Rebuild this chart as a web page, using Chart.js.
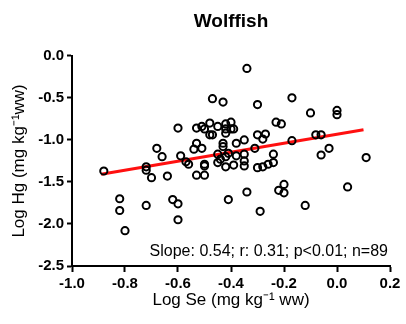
<!DOCTYPE html>
<html>
<head>
<meta charset="utf-8">
<script src="https://cdn.jsdelivr.net/npm/chart.js@4.4.0/dist/chart.umd.min.js"></script>
<style>
  html, body { margin: 0; padding: 0; background: #fff; }
  #wrap { width: 406px; height: 324px; }
</style>
</head>
<body>
<div id="wrap"><canvas id="one" width="406" height="324"></canvas></div>
<script>
"use strict";

// Wolffish: log Se vs log Hg
var logSe = [
  -0.88, -0.82, -0.82, -0.80, -0.72, -0.72, -0.70, -0.72, -0.68, -0.66,
  -0.64, -0.62, -0.60, -0.60, -0.60, -0.59, -0.57, -0.56, -0.54, -0.53,
  -0.53, -0.53, -0.51, -0.50, -0.51, -0.50, -0.48, -0.48, -0.47, -0.47,
  -0.45, -0.43, -0.42, -0.42, -0.40, -0.39, -0.42, -0.43, -0.43, -0.45,
  -0.42, -0.41, -0.38, -0.35, -0.38, -0.35, -0.34, -0.50, -0.50, -0.45,
  -0.42, -0.39, -0.35, -0.41, -0.34, -0.31, -0.30, -0.30, -0.28, -0.26,
  -0.24, -0.30, -0.27, -0.28, -0.23, -0.21, -0.24, -0.29, -0.22, -0.20,
  -0.20, -0.17, -0.17, -0.10, -0.08, -0.06, -0.06, -0.03, 0.00, 0.00,
  0.04, -0.12, 0.11, -0.44, -0.35, -0.40
];
var logHg = [
  -1.37, -1.70, -1.84, -2.08, -1.32, -1.36, -1.45, -1.78, -1.10, -1.20,
  -1.43, -1.71, -1.76, -1.95, -0.86, -1.19, -1.26, -1.29, -1.11, -1.04,
  -0.86, -1.42, -0.84, -0.87, -1.10, -1.42, -0.80, -0.94, -0.94, -0.51,
  -0.84, -0.55, -0.81, -0.87, -0.79, -0.87, -0.92, -1.04, -1.08, -1.17,
  -1.20, -1.16, -1.19, -1.17, -1.04, -1.00, -0.15, -1.31, -1.29, -1.27,
  -1.32, -1.30, -1.31, -1.71, -1.62, -1.10, -0.58, -1.33, -1.32, -1.29,
  -1.27, -0.94, -0.93, -0.99, -0.79, -0.81, -1.17, -1.85, -1.60, -1.53,
  -1.63, -0.50, -1.01, -0.68, -0.94, -0.94, -1.18, -1.10, -0.65, -0.70,
  -1.56, -1.78, -1.21, -1.23, -1.25, -0.87
];

// regression line end points
var fitSe = [-0.89, 0.10];
var fitHg = [-1.41, -0.88];

var statsText = "Slope: 0.54; r: 0.31; p<0.01; n=89";

var fontFamily = "'Liberation Sans', Arial, sans-serif";

var points = logSe.map(function (x, i) { return { x: x, y: logHg[i] }; });
var fitLine = fitSe.map(function (x, i) { return { x: x, y: fitHg[i] }; });

function fmt(v) {
  if (Math.abs(v) < 1e-9) return "0.0";
  return v.toFixed(1);
}

// stats text inside plot area, bottom right
var statsPlugin = {
  id: "stats",
  afterDatasetsDraw: function (chart) {
    var ctx = chart.ctx;
    var a = chart.chartArea;
    ctx.save();
    ctx.font = "16px " + fontFamily;
    ctx.fillStyle = "#000";
    ctx.textAlign = "right";
    ctx.textBaseline = "alphabetic";
    ctx.fillText(statsText, a.right - 2, a.bottom - 10);
    ctx.restore();
  }
};

var ctx1 = document.getElementById("one").getContext("2d");
var myChart1 = new Chart(ctx1, {
  type: "scatter",
  data: {
    datasets: [
      {
        label: "Wolffish",
        data: points,
        borderColor: "#000",
        backgroundColor: "rgba(0,0,0,0)",
        borderWidth: 2,
        pointRadius: 3.6,
        order: 0
      },
      {
        label: "Fit",
        data: fitLine,
        showLine: true,
        borderColor: "#ff1010",
        borderWidth: 3,
        pointRadius: 0,
        order: 1
      }
    ]
  },
  options: {
    responsive: false,
    animation: false,
    events: [],
    layout: { padding: { left: 0, right: 16, top: 0, bottom: 0 } },
    plugins: {
      legend: { display: false },
      tooltip: { enabled: false },
      title: {
        display: true,
        text: "Wolffish",
        color: "#000",
        fullSize: false,
        font: { family: fontFamily, size: 19, weight: "bold" },
        padding: { top: 10, bottom: 23 }
      }
    },
    scales: {
      x: {
        type: "linear",
        min: -1.0,
        max: 0.2,
        afterFit: function (scale) { scale.height = 58; },
        ticks: {
          stepSize: 0.2,
          color: "#000",
          padding: 3,
          font: { family: fontFamily, size: 15, weight: "bold" },
          callback: function (v) { return fmt(v); }
        },
        grid: { drawOnChartArea: false, color: "#000", tickLength: 6, tickWidth: 2 },
        border: { color: "#000", width: 2 },
        title: {
          display: true,
          text: "Log Se (mg kg\u207B\u00B9 ww)",
          color: "#000",
          font: { family: fontFamily, size: 17 },
          padding: { top: 0, bottom: 13 }
        }
      },
      y: {
        type: "linear",
        min: -2.5,
        max: 0.0,
        afterFit: function (scale) { scale.width = 72; },
        ticks: {
          stepSize: 0.5,
          color: "#000",
          padding: 3,
          font: { family: fontFamily, size: 15, weight: "bold" },
          callback: function (v) { return fmt(v); }
        },
        grid: { drawOnChartArea: false, color: "#000", tickLength: 5, tickWidth: 2 },
        border: { color: "#000", width: 2 },
        title: {
          display: true,
          text: "Log Hg (mg kg\u207B\u00B9ww)",
          color: "#000",
          font: { family: fontFamily, size: 17 },
          padding: { top: 9, bottom: 0 }
        }
      }
    }
  },
  plugins: [statsPlugin]
});
</script>
</body>
</html>
